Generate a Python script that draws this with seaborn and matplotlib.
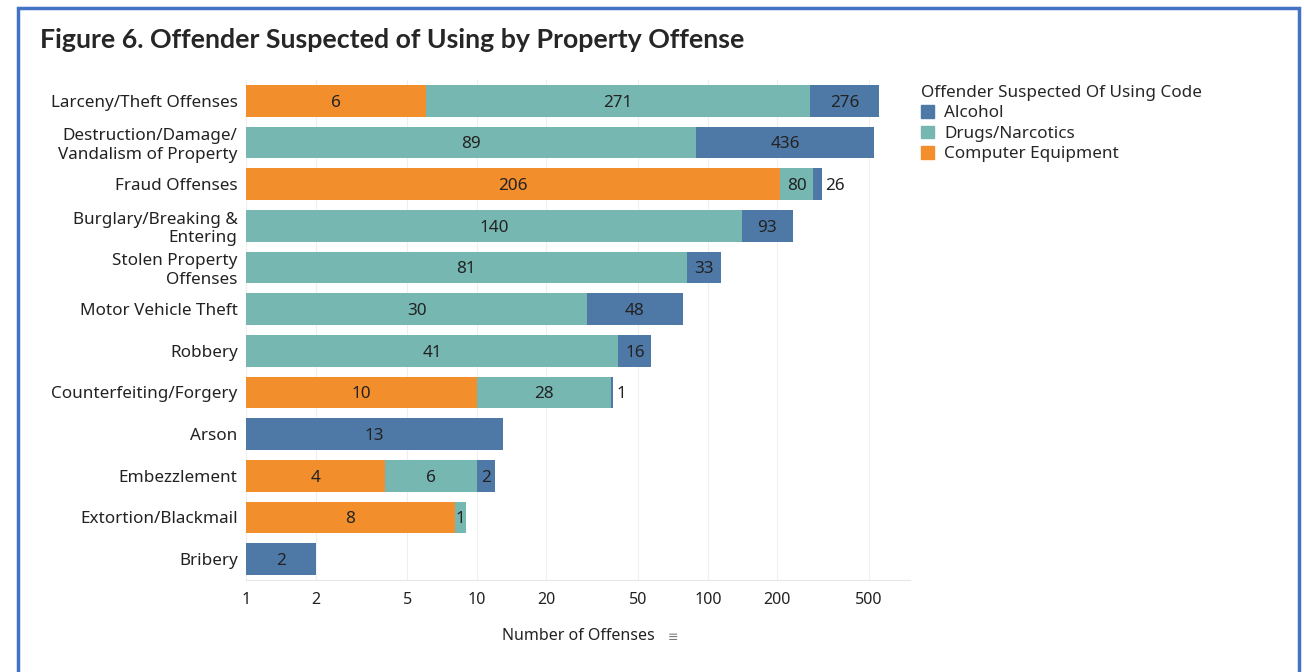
import numpy as np
import pandas as pd
import matplotlib.pyplot as plt
import seaborn as sns
from matplotlib.patches import Patch, Rectangle

# data
offenses = ["Larceny/Theft Offenses", "Destruction/Damage/\nVandalism of Property",
            "Fraud Offenses", "Burglary/Breaking &\nEntering", "Stolen Property\nOffenses",
            "Motor Vehicle Theft", "Robbery", "Counterfeiting/Forgery", "Arson",
            "Embezzlement", "Extortion/Blackmail", "Bribery"]
computer = [6, 0, 206, 0, 0, 0, 0, 10, 0, 4, 8, 0]
drugs = [271, 89, 80, 140, 81, 30, 41, 28, 0, 6, 1, 0]
alcohol = [276, 436, 26, 93, 33, 48, 16, 1, 13, 2, 0, 2]
xticks = [1, 2, 5, 10, 20, 50, 100, 200, 500]

colors = {"Alcohol": "#4E79A7", "Drugs/Narcotics": "#76B7B2", "Computer Equipment": "#F28E2B"}

df = pd.DataFrame({"offense": offenses, "computer": computer, "drugs": drugs, "alcohol": alcohol})
df["c1"] = df["computer"]
df["c2"] = df["c1"] + df["drugs"]
df["c3"] = df["c2"] + df["alcohol"]

sns.set_style("white")
plt.rcParams["font.family"] = ["Noto Sans", "DejaVu Sans"]
txt = "#222222"

fig = plt.figure(figsize=(13.04, 6.72), dpi=100)
ax = fig.add_axes([0.1887, 0.137, 0.509, 0.744])

# stacked bars: draw cumulative totals back to front
for col, name in [("c3", "Alcohol"), ("c2", "Drugs/Narcotics"), ("c1", "Computer Equipment")]:
    sns.barplot(data=df, x=col, y="offense", order=offenses, color=colors[name],
                saturation=1, width=0.76, linewidth=0, ax=ax, orient="h")

ax.set_xscale("log")
ax.set_xlim(1, 750)
ax.set_ylim(11.5, -0.5)
ax.set_xticks(xticks)
ax.set_xticklabels([str(t) for t in xticks])
ax.minorticks_off()
ax.xaxis.grid(True, color="#efefef", linewidth=0.8)
ax.set_axisbelow(True)
for s in ["top", "right", "left"]:
    ax.spines[s].set_visible(False)
ax.spines["bottom"].set_color("#e6e6e6")
ax.tick_params(axis="x", length=0, pad=9, labelsize=11.5, labelcolor=txt)
ax.tick_params(axis="y", length=0, pad=6, labelsize=12.3, labelcolor=txt)
for lbl in ax.get_yticklabels():
    lbl.set_horizontalalignment("right")
    lbl.set_multialignment("right")
ax.set_ylabel("")
ax.set_xlabel("Number of Offenses", fontsize=11.5, labelpad=14, color=txt)

# segment labels, centered in log space; tiny segments get the label outside
for i, row in df.iterrows():
    bounds = [(1, row["c1"], row["computer"]), (max(row["c1"], 1), row["c2"], row["drugs"]),
              (max(row["c2"], 1), row["c3"], row["alcohol"])]
    for lo, hi, v in bounds:
        if v == 0:
            continue
        if np.log10(hi) - np.log10(lo) < 0.045:
            ax.text(hi * 1.03, i, str(v), ha="left", va="center_baseline", fontsize=12.3, color=txt)
        else:
            ax.text(np.sqrt(lo * hi), i, str(v), ha="center", va="center_baseline",
                    fontsize=12.3, color=txt)

# sort icon next to the axis title
fig.text(668 / 1304, 1 - 637 / 672, "\u2261", fontsize=9, color="#777777", va="center")

fig.text(40 / 1304, 1 - 40 / 672, "Figure 6. Offender Suspected of Using by Property Offense",
         fontsize=19.3, fontweight="bold", family="Lato", va="center", ha="left")

handles = [Patch(color=colors[k], label=k) for k in colors]
fig.legend(handles=handles, title="Offender Suspected Of Using Code", loc="upper left",
           bbox_to_anchor=(921 / 1304, 1 - 85 / 672), frameon=False, fontsize=12.3,
           title_fontsize=12.3, alignment="left", handlelength=0.75, handleheight=0.75,
           handletextpad=0.6, labelspacing=0.25, borderpad=0, borderaxespad=0)

fig.add_artist(Rectangle((18 / 1304, -0.05), 1281 / 1304, 1.05 - 8 / 672, transform=fig.transFigure,
                         fill=False, edgecolor="#4472C4", linewidth=2.5))

fig.savefig("out.png", dpi=100)
